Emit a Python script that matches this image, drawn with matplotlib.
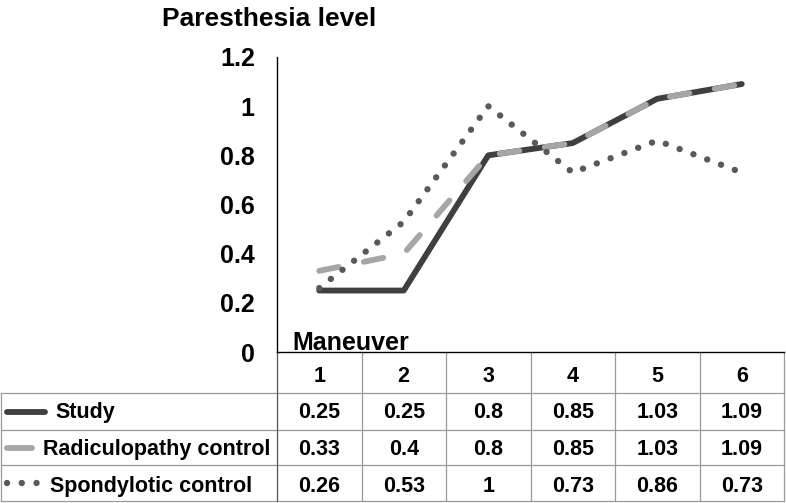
import matplotlib
matplotlib.use("Agg")
import matplotlib.pyplot as plt

maneuvers = [1, 2, 3, 4, 5, 6]
study = [0.25, 0.25, 0.8, 0.85, 1.03, 1.09]
radiculopathy = [0.33, 0.4, 0.8, 0.85, 1.03, 1.09]
spondylotic = [0.26, 0.53, 1, 0.73, 0.86, 0.73]
series_names = ["Study", "Radiculopathy control", "Spondylotic control"]
y_ticks = [0, 0.2, 0.4, 0.6, 0.8, 1, 1.2]
y_ticklabels = ["0", "0.2", "0.4", "0.6", "0.8", "1", "1.2"]

plt.rcParams['font.family'] = ['Liberation Sans', 'DejaVu Sans']
plt.rcParams['font.weight'] = 'bold'

W, H = 786, 503
fig = plt.figure(figsize=(W / 100, H / 100), dpi=100)

# pixel helpers
def fx(px):
    return px / W

def fy(py):
    return 1 - py / H

x0, x1 = 277, 784
ytop, ybot = 57, 352
ax = fig.add_axes([fx(x0), fy(ybot), fx(x1) - fx(x0), fy(ytop) - fy(ybot)])

styles = [
    dict(color='#3f3f3f', lw=4.2, ls='-', solid_capstyle='round', solid_joinstyle='round'),
    dict(color='#a6a6a6', lw=4.2, ls=(0, (3.4, 4.4)), dash_capstyle='round'),
    dict(color='#595959', lw=4.6, ls=(0, (0.01, 2.3)), dash_capstyle='round'),
]
values = [study, radiculopathy, spondylotic]

for vals, st in zip(values, styles):
    ax.plot(maneuvers, vals, **st)

ax.set_xlim(0.5, 6.5)
ax.set_ylim(0, 1.2)
ax.set_yticks(y_ticks)
ax.set_yticklabels(y_ticklabels, fontsize=18, fontweight='bold')
ax.tick_params(axis='y', length=0, pad=16)
ax.set_xticks([])
for s in ['top', 'right']:
    ax.spines[s].set_visible(False)
ax.spines['left'].set_color('black')
ax.spines['bottom'].set_color('black')
ax.spines['left'].set_linewidth(1)
ax.spines['bottom'].set_linewidth(1)

fig.text(fx(162), fy(26), "Paresthesia level", fontsize=19, fontweight='bold',
         ha='left', va='baseline')
fig.text(fx(292), fy(350), "Maneuver", fontsize=18, fontweight='bold',
         ha='left', va='baseline')

# data table drawn in pixel coords
tab = fig.add_axes([0, 0, 1, 1], zorder=-1)
tab.set_xlim(0, W)
tab.set_ylim(H, 0)
tab.axis('off')

grid = '#9a9a9a'
col_edges = [x0 + i * (x1 - x0) / 6 for i in range(7)]
row_edges = [393, 430, 465, 501]

for y in row_edges:
    tab.plot([0.5, x1], [y, y], color=grid, lw=0.9)
tab.plot([0.5, 0.5], [row_edges[0], row_edges[-1]], color=grid, lw=0.9)
tab.plot([x0, x0], [ybot, row_edges[-1]], color='#555555', lw=0.9)
for x in col_edges[1:]:
    tab.plot([x, x], [ybot, row_edges[-1]], color=grid, lw=0.9)

centers = [(col_edges[i] + col_edges[i + 1]) / 2 for i in range(6)]
for c, m in zip(centers, maneuvers):
    tab.text(c, 382, str(m), fontsize=15.5, fontweight='bold', ha='center', va='baseline')

baselines = [418, 455, 492]
row_mid = [411.5, 447.5, 483]
key_ends = [45, 32, 37]
text_starts = [55, 43, 50]
for vals, st, name, base, mid, kend, tx in zip(values, styles, series_names,
                                              baselines, row_mid, key_ends, text_starts):
    for c, v in zip(centers, vals):
        tab.text(c, base, f"{v:g}", fontsize=15.5, fontweight='bold', ha='center', va='baseline')
    kst = dict(st)
    kst['solid_capstyle'] = 'round'
    if kst['ls'] != '-':
        kst['ls'] = '-' if name.startswith('Radic') else kst['ls']
    tab.plot([7, kend], [mid, mid], **kst)
    tab.text(tx, base, name, fontsize=15.5, fontweight='bold', ha='left', va='baseline')

fig.savefig("out.png", dpi=100)
